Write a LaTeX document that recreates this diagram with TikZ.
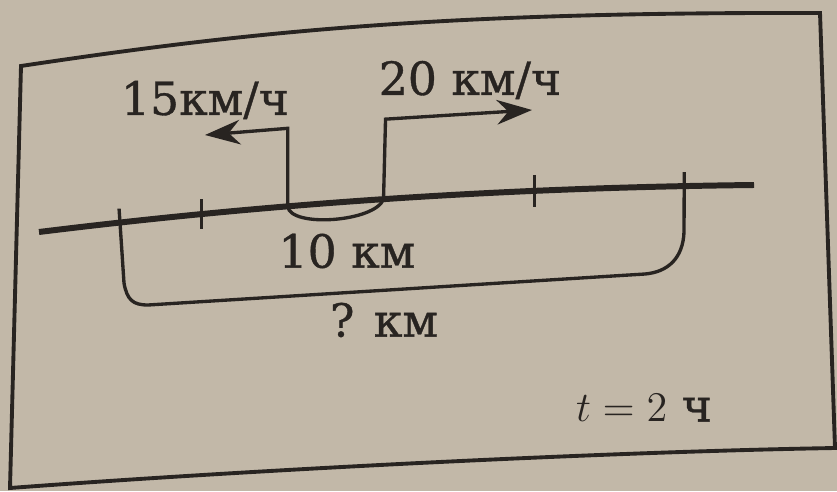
\documentclass[tikz,border=0pt]{standalone}
\usepackage{fontspec}
\setmainfont{DejaVu Serif}[UprightFeatures={FakeBold=0.8}]
\usetikzlibrary{arrows.meta,calc}
\definecolor{paper}{RGB}{194,184,168}
\definecolor{ink}{RGB}{40,36,33}
\begin{document}
\begin{tikzpicture}[x=0.01cm, y=-0.01cm,
    thinline/.style={draw=ink, line width=0.95pt},
    road/.style={draw=ink, line width=1.7pt},
    frameline/.style={draw=ink, line width=1.1pt},
    speedarrow/.style={thinline, -{Stealth[length=10pt,width=7pt]}},
    lbl/.style={text=ink, inner sep=0pt, font=\fontsize{13}{15}\selectfont}]
  \fill[paper] (0,0) rectangle (837,491);
  \useasboundingbox (0,0) rectangle (837,491);
  % frame of the task
  \draw[frameline] (21,66) .. controls (260,30) and (450,12) .. (820,13)
    -- (835,448) .. controls (600,452) and (250,470) .. (10,488) -- cycle;
  % the road, with marks on it
  \coordinate (west) at (39,232);
  \coordinate (east) at (754,185);
  \draw[road] (west) .. controls (250,206) and (480,188) .. (east)
    coordinate[pos=0.125] (m1) coordinate[pos=0.25] (m2)
    coordinate[pos=0.378] (carA) coordinate[pos=0.515] (carB)
    coordinate[pos=0.721] (m3) coordinate[pos=0.914] (m4);
  \draw[thinline] ($(m2)+(0,-15)$) -- ($(m2)+(0,15)$);
  \draw[thinline] ($(m3)+(0,-16)$) -- ($(m3)+(0,16)$);
  % 10 km between the two starting points
  \draw[thinline] (carA) .. controls (290,228) and (375,222) .. (carB);
  % the two speeds
  \coordinate (cornerA) at ($(carA)+(0,-78)$);
  \coordinate (tipA) at (205,135);
  \coordinate (cornerB) at ($(carB)+(2,-80)$);
  \coordinate (tipB) at (532,110);
  \draw[speedarrow] (carA) -- (cornerA) -- (tipA);
  \draw[speedarrow] (carB) -- (cornerB) -- (tipB);
  % the whole distance after 2 hours
  \draw[thinline] ($(m1)+(0,-14)$) -- (124,283)
    .. controls (127,300) and (133,305) .. (148,305) -- (645,274)
    .. controls (668,272) and (683,258) .. (684,232) -- ($(m4)+(0,-14)$);
  \node[lbl] (speedA) at (205,100) {15км/ч};
  \node[lbl] (speedB) at (470,80) {20 км/ч};
  \node[lbl] (gap) at (347,251) {10 км};
  \node[lbl] (whole) at (384,320) {? км};
  \node[lbl] (time) at (644,408) {$t=2$ ч};
\end{tikzpicture}
\end{document}
